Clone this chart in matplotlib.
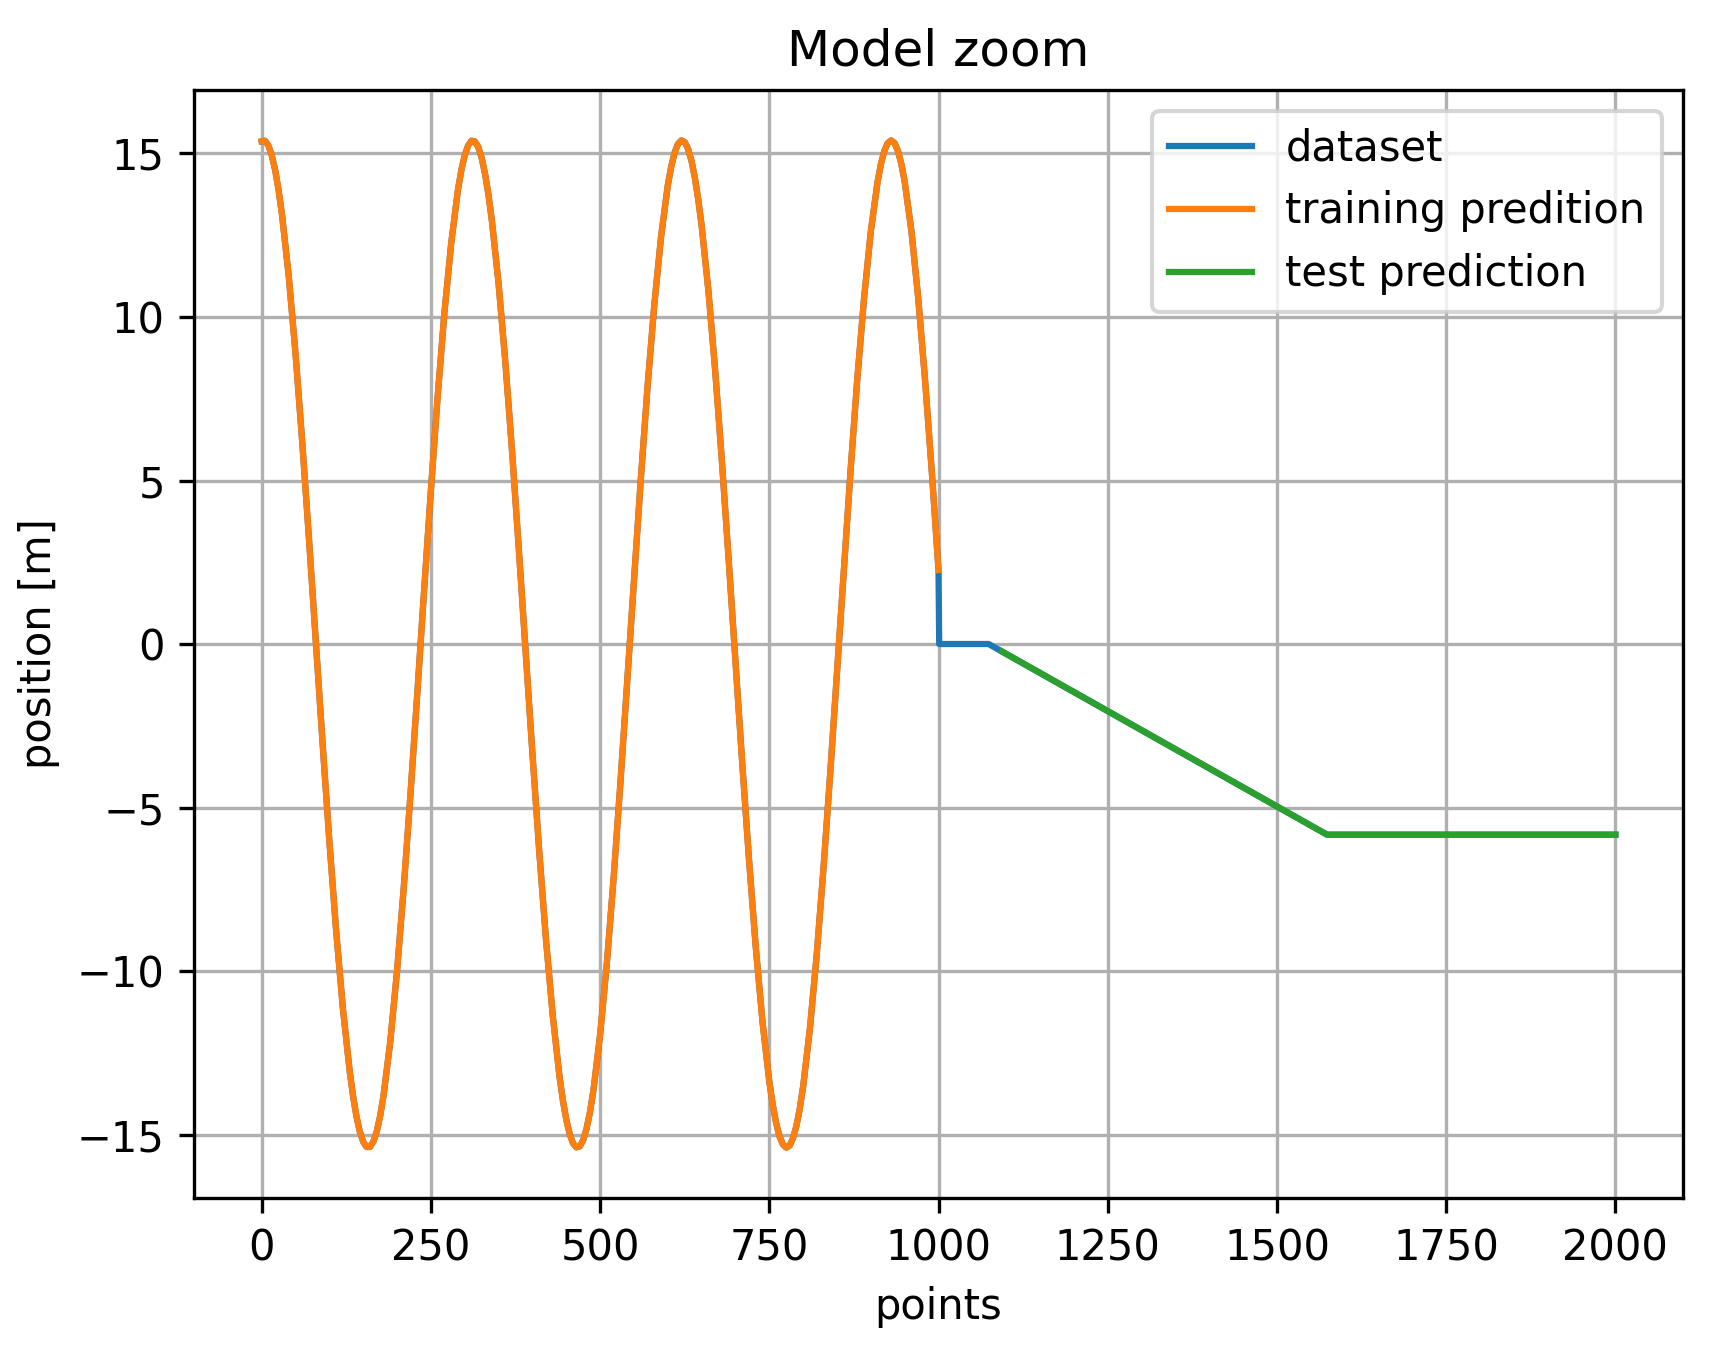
import matplotlib
matplotlib.use('agg')
import matplotlib.pyplot as plt

# dataset over the training range 0..1000 (read every 10 points, every 5 near the extremes)
train_points = [
    0, 5, 10, 15, 20, 25, 30, 40, 50, 60, 70, 80, 90, 100, 110, 120, 130, 135, 140, 145,
    150, 155, 160, 165, 170, 175, 180, 190, 200, 210, 220, 230, 240, 250, 260, 270, 280, 290, 295, 300,
    305, 310, 315, 320, 325, 330, 335, 340, 350, 360, 370, 380, 390, 400, 410, 420, 430, 440, 445, 450,
    455, 460, 465, 470, 475, 480, 485, 490, 500, 510, 520, 530, 540, 550, 560, 570, 580, 590, 600, 605,
    610, 615, 620, 625, 630, 635, 640, 645, 650, 660, 670, 680, 690, 700, 710, 720, 730, 740, 750, 755,
    760, 765, 770, 775, 780, 785, 790, 795, 800, 810, 820, 830, 840, 850, 860, 870, 880, 890, 900, 910,
    915, 920, 925, 930, 935, 940, 945, 950, 960, 970, 980, 990, 1000,
]
train_values = [
    15.37, 15.39, 15.24, 14.94, 14.49, 13.88, 13.14, 11.25, 8.89, 6.16, 3.19, 0.08, -3.03, -6.02, -8.76, -11.14, -13.05, -13.82, -14.44, -14.91,
    -15.22, -15.38, -15.38, -15.22, -14.91, -14.44, -13.82, -12.16, -10.00, -7.43, -4.55, -1.49, 1.64, 4.69, 7.56, 10.13, 12.25, 13.89, 14.49, 14.94,
    15.24, 15.39, 15.37, 15.20, 14.87, 14.38, 13.75, 12.97, 11.03, 8.63, 5.88, 2.88, -0.23, -3.34, -6.31, -9.02, -11.35, -13.22, -13.95, -14.54,
    -14.98, -15.27, -15.39, -15.36, -15.17, -14.82, -14.32, -13.67, -11.96, -9.76, -7.15, -4.25, -1.17, 1.95, 5.00, 7.84, 10.35, 12.44, 14.02, 14.59,
    15.02, 15.29, 15.40, 15.35, 15.14, 14.78, 14.26, 13.60, 12.80, 10.81, 8.37, 5.58, 2.57, -0.55, -3.64, -6.59, -9.27, -11.56, -13.38, -14.08,
    -14.64, -15.05, -15.30, -15.40, -15.34, -15.11, -14.74, -14.21, -13.53, -11.76, -9.51, -6.87, -3.95, -0.86, 2.26, 5.29, 8.11, 10.58, 12.62, 14.14,
    14.69, 15.08, 15.32, 15.40, 15.32, 15.08, 14.69, 14.14, 12.62, 10.58, 8.10, 5.29, 2.26,
]

# dataset after the training range
tail_points = [1001, 1074, 1574, 2000]
tail_values = [0.0, 0.0, -5.83, -5.83]

# test prediction
test_points = [1094, 1574, 2000]
test_values = [-0.23, -5.83, -5.83]

dataset_points = train_points + tail_points
dataset_values = train_values + tail_values

fig = plt.figure(figsize=(1712 / 300, 1350 / 300), dpi=300)
fig.subplots_adjust(left=0.1133, right=0.9831, bottom=0.1126, top=0.9333)

plt.plot(dataset_points, dataset_values, label='dataset')
plt.plot(train_points, train_values, label='training predition')
plt.plot(test_points, test_values, label='test prediction')
plt.title('Model zoom')
plt.xlabel('points')
plt.ylabel('position [m]')
plt.legend(loc='upper right')
plt.grid(True)
plt.savefig('out.png', dpi=300)
